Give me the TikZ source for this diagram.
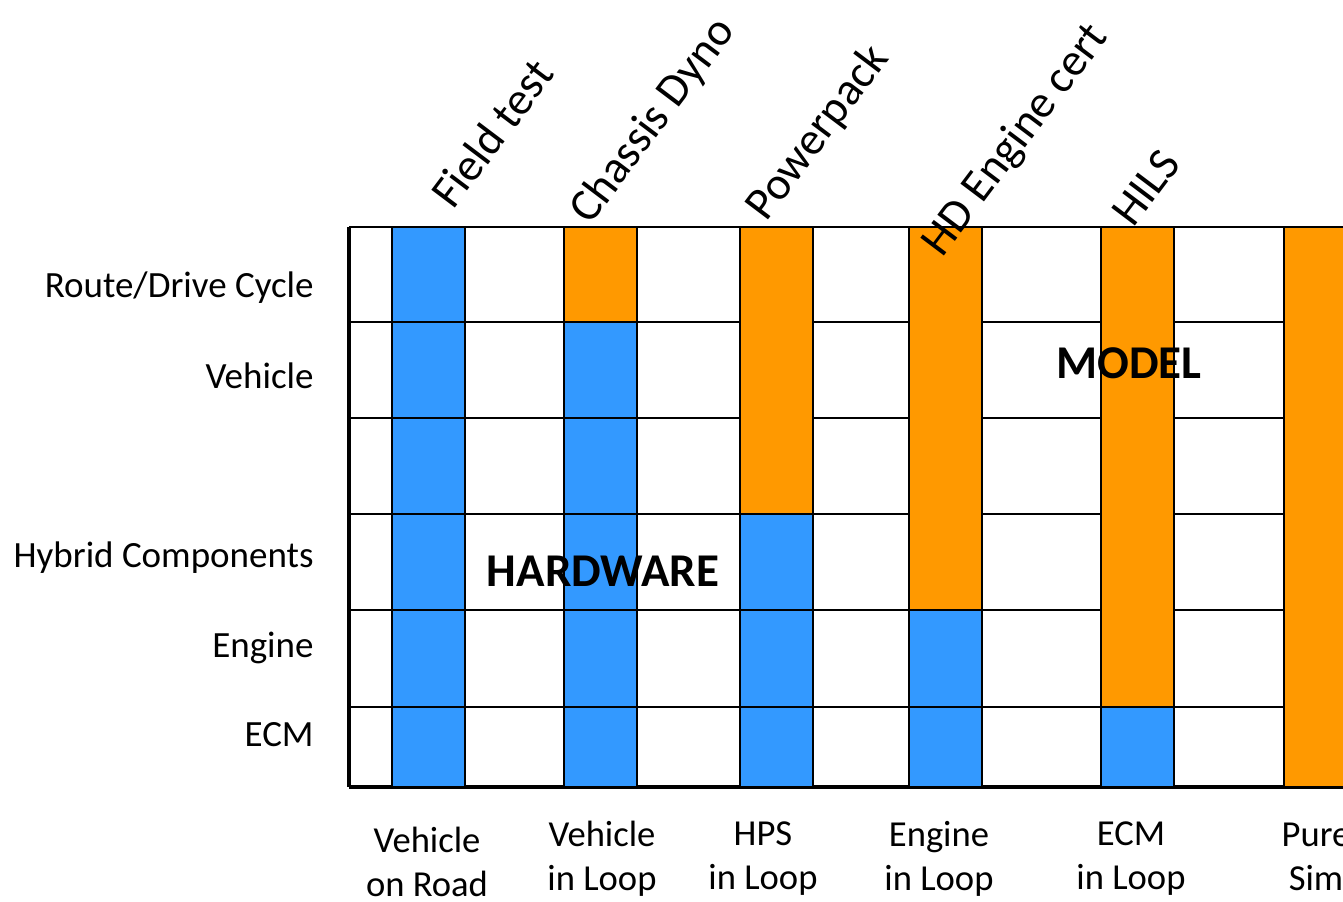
\documentclass[tikz,border=0pt]{standalone}
\usepackage{fontspec}
\setmainfont{Carlito}
\definecolor{hwblue}{RGB}{51,153,255}
\definecolor{mdorange}{RGB}{255,153,0}
\tikzset{
  rowlabel/.style={anchor=base east, inner sep=0pt, font=\fontsize{18.5}{22}\selectfont},
  testlabel/.style={anchor=base west, rotate=53, inner sep=0pt, font=\fontsize{23}{27}\selectfont},
  setuplabel/.style={align=center, inner sep=0pt, font=\fontsize{18.3}{22}\selectfont},
  bigword/.style={inner sep=0pt, font=\fontsize{23.5}{28}\selectfont\bfseries},
  hwcell/.style={fill=hwblue, draw=black, line width=1pt},
  mdcell/.style={fill=mdorange, draw=black, line width=1pt},
}
\begin{document}
\begin{tikzpicture}[x=0.5pt, y=-0.5pt]
    \useasboundingbox (0,0) rectangle (1343,901);
    \def\rowy{{227,322,418,514,610,707,787}}
    \def\w{73}
    % grid rows
    \foreach \y in {227,322,418,514,610,707}{
        \draw[line width=1.25pt] (349,\y) -- (1360,\y);
    }
    \draw[line width=1.75pt] (349,787) -- (1360,787) (349,227) -- (349,787);
    % columns: left edge / rows that are model (from the top)
    \foreach \x/\m in {392/0,564/1,740/3,909/4,1101/5,1284/6}{
        \ifnum\m>0
            \pgfmathsetmacro\ybot{\rowy[\m]}
            \draw[mdcell] (\x,227) rectangle (\x+\w,\ybot);
        \fi
        \foreach \r in {1,...,6}{
            \ifnum\r>\m
                \pgfmathsetmacro\ytop{\rowy[\r-1]}
                \pgfmathsetmacro\ybot{\rowy[\r]}
                \draw[hwcell] (\x,\ytop) rectangle (\x+\w,\ybot);
            \fi
        }
    }
    % row labels
    \node[rowlabel] (route) at (314,297) {Route/Drive Cycle};
    \node[rowlabel] (vehicle) at (314,388) {Vehicle};
    \node[rowlabel] (hybrid) at (314,567) {Hybrid Components};
    \node[rowlabel] (engine) at (314,657) {Engine};
    \node[rowlabel] (ecm) at (314,746) {ECM};
    % test names
    \node[testlabel] (field) at (453,211) {Field test};
    \node[testlabel] (chassis) at (590,226) {Chassis Dyno};
    \node[testlabel] (powerpack) at (766,223) {Powerpack};
    \node[testlabel] (hdcert) at (942,259) {HD Engine cert};
    \node[testlabel] (hils) at (1133,229) {HILS};
    % setups
    \node[setuplabel] (vor) at (427,862) {Vehicle\\on Road};
    \node[setuplabel] (vil) at (602,859) {Vehicle\\in Loop};
    \node[setuplabel] (hps) at (763,859) {HPS\\in Loop};
    \node[setuplabel] (eil) at (939,859) {Engine\\in Loop};
    \node[setuplabel] (ecmil) at (1131,859) {ECM\\in Loop};
    \node[setuplabel] (puresim) at (1316,857) {Pure\\Sim};
    \node[bigword] (hardware) at (603,571) {HARDWARE};
    \node[bigword] (model) at (1129,363) {MODEL};
\end{tikzpicture}
\end{document}
